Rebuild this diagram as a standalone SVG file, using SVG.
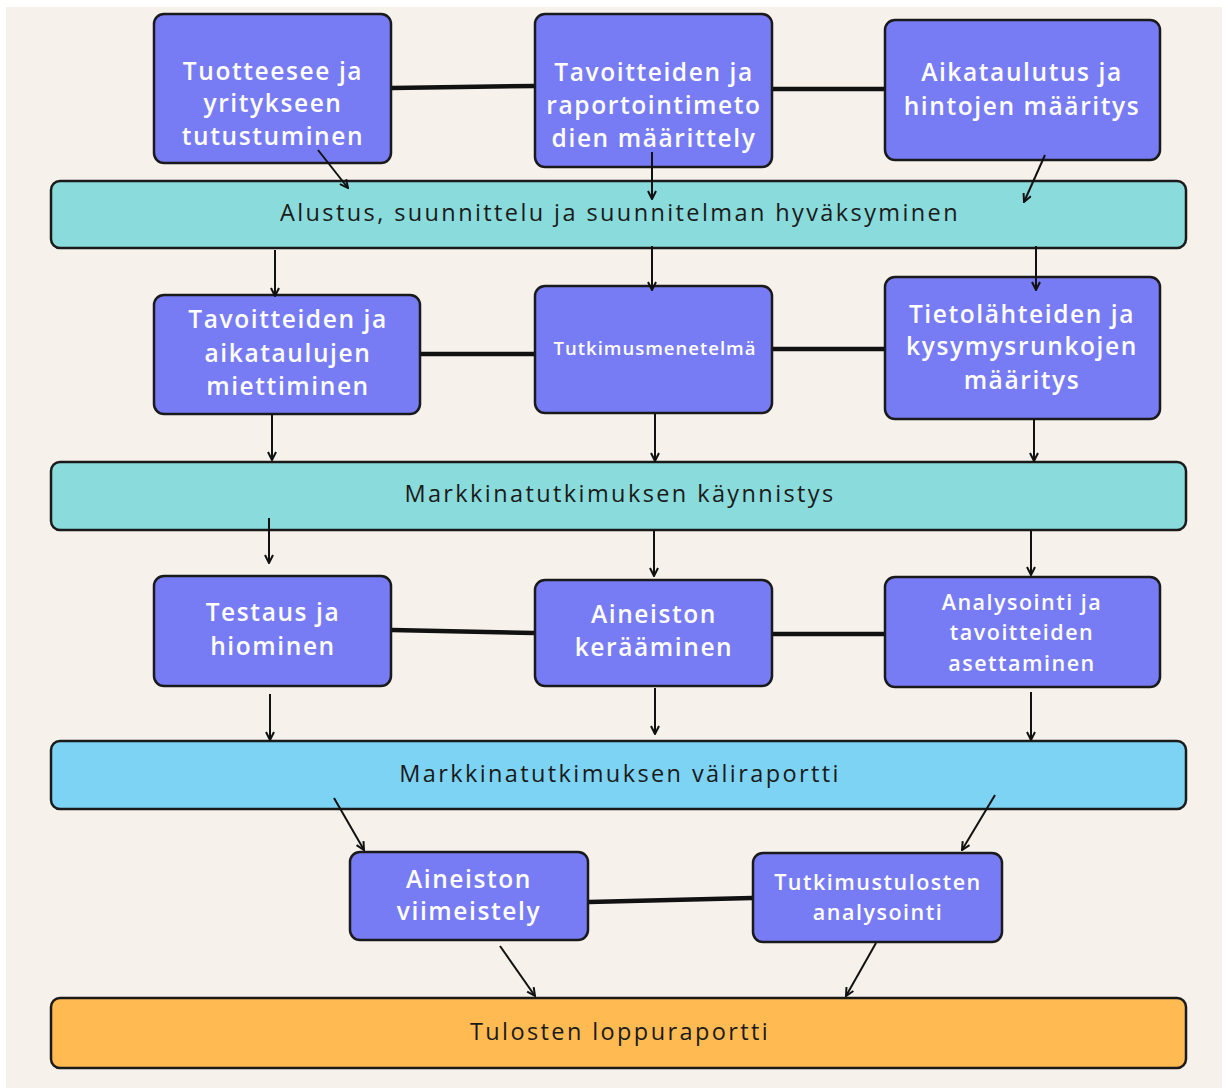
<svg xmlns="http://www.w3.org/2000/svg" width="1228" height="1088" viewBox="0 0 1228 1088">
<defs>
<marker id="ah" viewBox="0 0 10 10" refX="9" refY="5" markerWidth="10" markerHeight="10" markerUnits="userSpaceOnUse" orient="auto">
<path d="M1,1 L9,5 L1,9" fill="none" stroke="#111" stroke-width="2"/>
</marker>
</defs>
<style>
.node{fill:#787cf4;stroke:#1a1a1a;stroke-width:2.5}
.band{stroke:#1a1a1a;stroke-width:2.5}
.nt{font-family:"Open Sans","Liberation Sans",sans-serif;font-weight:600;fill:#fff;text-anchor:middle;font-size:24.5px;letter-spacing:1.6px}
.sm{font-size:21.5px;letter-spacing:1.5px}
.bt{font-family:"Open Sans","Liberation Sans",sans-serif;fill:#1a1a1a;text-anchor:middle;font-size:23.5px;letter-spacing:2.4px}
.link{stroke:#111;stroke-width:4.5;fill:none}
.arr{stroke:#111;stroke-width:2;fill:none;marker-end:url(#ah)}
</style>
<rect width="1228" height="1088" fill="#ffffff"/>
<rect x="6" y="7" width="1216" height="1081" fill="#f6f2eb"/>
<g id="n1"><rect class="node" x="154" y="14" width="237" height="149" rx="10"/>
<text class="nt" x="273" y="80">Tuotteesee ja</text><text class="nt" x="273" y="112">yritykseen</text><text class="nt" x="273" y="145">tutustuminen</text></g>
<g id="n2"><rect class="node" x="535" y="14" width="237" height="153" rx="10"/>
<text class="nt" x="654" y="81">Tavoitteiden ja</text><text class="nt" x="654" y="114">raportointimeto</text><text class="nt" x="654" y="147">dien määrittely</text></g>
<g id="n3"><rect class="node" x="885" y="20" width="275" height="140" rx="10"/>
<text class="nt" x="1022" y="81">Aikataulutus ja</text><text class="nt" x="1022" y="115">hintojen määritys</text></g>
<g id="b1"><rect class="band" fill="#8adbdb" x="51" y="181" width="1135" height="67" rx="9"/>
<text class="bt" x="620" y="221">Alustus, suunnittelu ja suunnitelman hyväksyminen</text></g>
<g id="n4"><rect class="node" x="154" y="295" width="266" height="119" rx="10"/>
<text class="nt" x="288" y="328">Tavoitteiden ja</text><text class="nt" x="288" y="362">aikataulujen</text><text class="nt" x="288" y="395">miettiminen</text></g>
<g id="n5"><rect class="node" x="535" y="286" width="237" height="127" rx="10"/>
<text class="nt" x="655" y="355" style="font-size:18.5px;letter-spacing:1px">Tutkimusmenetelmä</text></g>
<g id="n6"><rect class="node" x="885" y="277" width="275" height="142" rx="10"/>
<text class="nt" x="1022" y="323">Tietolähteiden ja</text><text class="nt" x="1022" y="355">kysymysrunkojen</text><text class="nt" x="1022" y="389">määritys</text></g>
<g id="b2"><rect class="band" fill="#8adbdb" x="51" y="462" width="1135" height="68" rx="9"/>
<text class="bt" x="620" y="502">Markkinatutkimuksen käynnistys</text></g>
<g id="n7"><rect class="node" x="154" y="576" width="237" height="110" rx="10"/>
<text class="nt" x="273" y="621">Testaus ja</text><text class="nt" x="273" y="655">hiominen</text></g>
<g id="n8"><rect class="node" x="535" y="580" width="237" height="106" rx="10"/>
<text class="nt" x="654" y="623">Aineiston</text><text class="nt" x="654" y="656">kerääminen</text></g>
<g id="n9"><rect class="node" x="885" y="577" width="275" height="110" rx="10"/>
<text class="nt sm" x="1022" y="610">Analysointi ja</text><text class="nt sm" x="1022" y="640">tavoitteiden</text><text class="nt sm" x="1022" y="671">asettaminen</text></g>
<g id="b3"><rect class="band" fill="#7cd3f4" x="51" y="741" width="1135" height="68" rx="9"/>
<text class="bt" x="620" y="782">Markkinatutkimuksen väliraportti</text></g>
<g id="n10"><rect class="node" x="350" y="852" width="238" height="88" rx="10"/>
<text class="nt" x="469" y="888">Aineiston</text><text class="nt" x="469" y="920">viimeistely</text></g>
<g id="n11"><rect class="node" x="753" y="853" width="249" height="89" rx="10"/>
<text class="nt sm" x="878" y="890">Tutkimustulosten</text><text class="nt sm" x="878" y="920">analysointi</text></g>
<g id="b4"><rect class="band" fill="#ffba52" x="51" y="998" width="1135" height="70" rx="9"/>
<text class="bt" x="620" y="1040">Tulosten loppuraportti</text></g>
<g id="connectors">
<line class="link" x1="392" y1="88" x2="534" y2="86"/>
<line class="link" x1="773" y1="89" x2="884" y2="89"/>
<line class="link" x1="421" y1="354" x2="534" y2="354"/>
<line class="link" x1="773" y1="349" x2="884" y2="349"/>
<line class="link" x1="392" y1="630" x2="534" y2="633"/>
<line class="link" x1="773" y1="634" x2="884" y2="634"/>
<line class="link" x1="589" y1="902" x2="752" y2="898"/>
<line class="arr" x1="318" y1="150" x2="348" y2="188"/>
<line class="arr" x1="652" y1="152" x2="652" y2="199"/>
<line class="arr" x1="1045" y1="155" x2="1024" y2="202"/>
<line class="arr" x1="275" y1="250" x2="275" y2="296"/>
<line class="arr" x1="652" y1="246" x2="652" y2="290"/>
<line class="arr" x1="1036" y1="246" x2="1036" y2="290"/>
<line class="arr" x1="272" y1="414" x2="272" y2="460"/>
<line class="arr" x1="655" y1="414" x2="655" y2="461"/>
<line class="arr" x1="1034" y1="419" x2="1034" y2="461"/>
<line class="arr" x1="269" y1="518" x2="269" y2="563"/>
<line class="arr" x1="654" y1="530" x2="654" y2="576"/>
<line class="arr" x1="1031" y1="530" x2="1031" y2="575"/>
<line class="arr" x1="270" y1="694" x2="270" y2="740"/>
<line class="arr" x1="655" y1="688" x2="655" y2="734"/>
<line class="arr" x1="1031" y1="692" x2="1031" y2="740"/>
<line class="arr" x1="334" y1="798" x2="364" y2="850"/>
<line class="arr" x1="995" y1="795" x2="962" y2="850"/>
<line class="arr" x1="500" y1="946" x2="535" y2="996"/>
<line class="arr" x1="876" y1="943" x2="846" y2="996"/>
</g>
</svg>
